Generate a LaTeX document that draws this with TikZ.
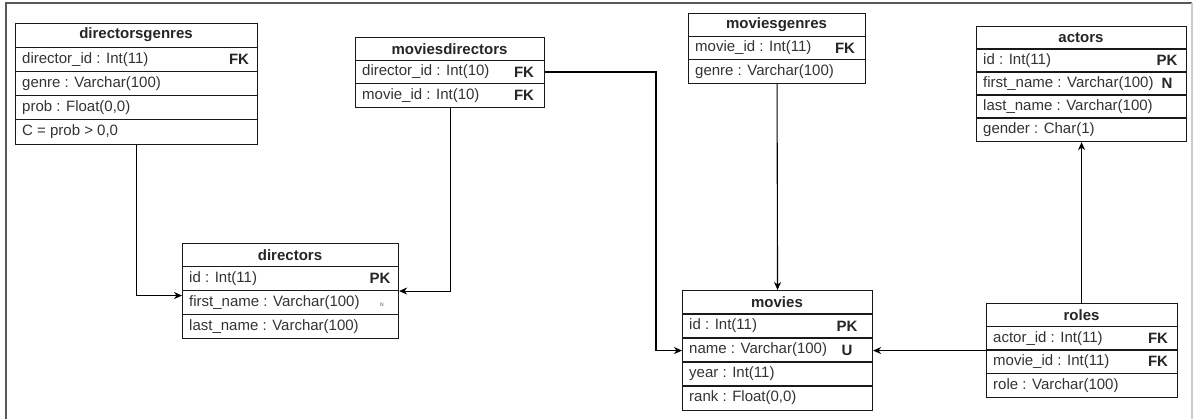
\documentclass[tikz,border=0pt]{standalone}
\usepackage{fontspec}
\setmainfont{Liberation Sans}
\usetikzlibrary{arrows.meta}

% One table of an ER schema: outer box, title band, rows with a key column.
% #1 name, #2 left x, #3 right x, #4 top y, #5 bottom y, #6 number of rows,
% #7 title, #8 rows as {text/key, ...}
\newcommand\ertable[8]{%
  \pgfmathsetmacro\rowh{(#5-#4)/(#6+1)}%
  \node[tablebox, minimum width={(#3-#2)*1pt}, minimum height={(#5-#4)*1pt},
        anchor=north west] (#1) at (#2,#4) {};
  \node[titletext] (#1-title) at ({(#2+#3)/2},{#4+\rowh/2}) {#7};
  \foreach [count=\i] \t/\k in {#8} {
    \draw[rowline] (#2,{#4+\i*\rowh}) -- (#3,{#4+\i*\rowh});
    \node[rowtext] (#1-r\i) at (#2+7,{#4+(\i+0.5)*\rowh}) {\t};
    \node[keytext] (#1-k\i) at (#3-\keyoff,{#4+(\i+0.5)*\rowh}) {\k};
  }%
}

\tikzset{
  tablebox/.style={draw=black!90, line width=1.1pt, rectangle, inner sep=0pt, fill=white},
  rowline/.style={draw=black!90, line width=1.1pt},
  titletext/.style={font=\fontsize{15}{18}\selectfont\bfseries, text=black!85, inner sep=0pt},
  rowtext/.style={anchor=west, font=\fontsize{15}{18}\selectfont, text=black!80, inner sep=0pt},
  keytext/.style={font=\fontsize{15}{18}\selectfont\bfseries, text=black!85, inner sep=0pt},
  fk/.style={draw=black, line width=1.1pt, -{Stealth[length=8pt,width=7pt,inset=2.5pt]}},
}

\begin{document}
\begin{tikzpicture}[x=1pt,y=-1pt]
  \useasboundingbox (0,0) rectangle (1195,418);

  % page frame
  \draw[black!65, line width=1.3pt] (6,420) -- (6,3) -- (1192,3);
  \draw[black!20, line width=1.2pt] (1192,3) -- (1192,420);

  \def\keyoff{18}
  \ertable{directorsgenres}{15}{257}{23}{144}{4}{directorsgenres}
    {director\_id : Int(11)/FK, genre : Varchar(100)/{}, prob : Float(0{,}0)/{}, C = prob > 0{,}0/{}}

  \def\keyoff{20}
  \ertable{moviesdirectors}{355}{544}{37}{107}{2}{moviesdirectors}
    {director\_id : Int(10)/FK, movie\_id : Int(10)/FK}

  \def\keyoff{18}
  \ertable{directors}{182}{398}{243}{338}{3}{directors}
    {id : Int(11)/PK, first\_name : Varchar(100)/{}, last\_name : Varchar(100)/{}}
  \node[font=\fontsize{5}{6}\selectfont, text=black!70, inner sep=0pt] (directors-n) at (382,305) {N};

  \def\keyoff{20}
  \ertable{moviesgenres}{688}{865}{13}{83}{2}{moviesgenres}
    {movie\_id : Int(11)/FK, genre : Varchar(100)/{}}

  \def\keyoff{19}
  \ertable{actors}{976}{1186}{26}{141}{4}{actors}
    {id : Int(11)/PK, first\_name : Varchar(100)/N, last\_name : Varchar(100)/{}, gender : Char(1)/{}}

  \def\keyoff{25}
  \ertable{movies}{682}{872}{290}{410}{4}{movies}
    {id : Int(11)/PK, name : Varchar(100)/U, year : Int(11)/{}, rank : Float(0{,}0)/{}}

  \def\keyoff{19}
  \ertable{roles}{986}{1177}{303}{397}{3}{roles}
    {actor\_id : Int(11)/FK, movie\_id : Int(11)/FK, role : Varchar(100)/{}}

  % relationships
  \coordinate (mdbend) at (656,0);
  \draw[fk] (directorsgenres.south) |- ([yshift=-4.5pt]directors.west);
  \draw[fk] (moviesdirectors.south) |- (directors.east);
  \draw[fk] (moviesdirectors.east |- moviesdirectors-r1) -| (mdbend |- movies.west) -- (movies.west);
  \draw[fk] (moviesgenres.south) -- (movies.north);
  \draw[fk] (roles.west) -- (movies.east);
  \draw[fk] (roles.north -| actors.south) -- (actors.south);
\end{tikzpicture}
\end{document}
